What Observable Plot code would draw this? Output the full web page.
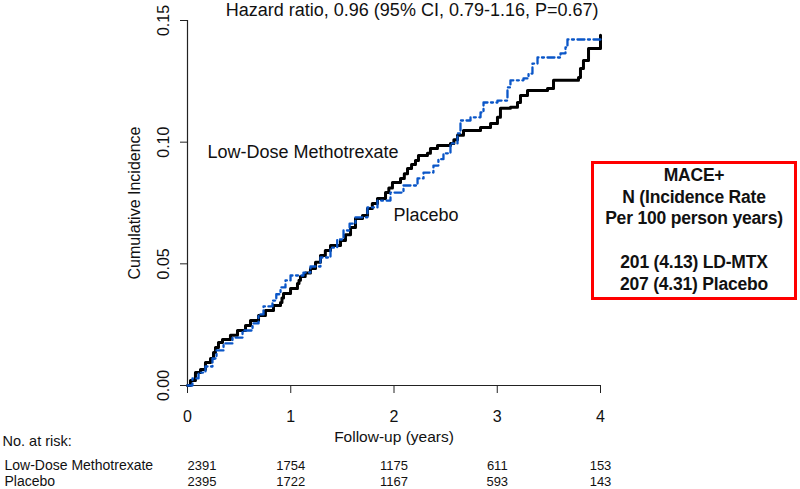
<!DOCTYPE html>
<html>
<head>
<meta charset="utf-8">
<script src="https://cdn.jsdelivr.net/npm/d3@7"></script>
<script src="https://cdn.jsdelivr.net/npm/@observablehq/plot@0.6"></script>
<style>
  html, body { margin: 0; padding: 0; background: #fff; }
  #wrap { position: relative; width: 800px; height: 489px; overflow: hidden; font-family: "Liberation Sans", Arial, sans-serif; }
  #box { position: absolute; left: 591px; top: 161px; width: 206px; height: 139px; box-sizing: border-box;
         border: 3px solid #ff0000; text-align: center; font-weight: bold; font-size: 17.5px; line-height: 21.7px;
         padding-top: 1px; color: #111; letter-spacing: -0.2px; }
</style>
</head>
<body>
<div id="wrap"></div>
<script>
// ---- data ----
const title = "Hazard ratio, 0.96 (95% CI, 0.79-1.16, P=0.67)";
const xTicks = [0, 1, 2, 3, 4];
const yTicks = [0, 0.05, 0.10, 0.15];
const groups = ["Low-Dose Methotrexate", "Placebo"];

// [years, cumulative incidence] at each step
const mtxSteps = [[0,0],[0.029,0.0021],[0.077,0.0053],[0.126,0.0066],[0.174,0.0095],[0.223,0.0111],[0.252,0.0136],[0.271,0.0156],[0.300,0.0177],[0.339,0.0189],[0.416,0.0206],[0.484,0.0226],[0.562,0.0247],[0.610,0.0267],[0.688,0.0288],[0.755,0.0308],[0.833,0.0329],[0.901,0.0341],[0.915,0.0360],[0.930,0.0378],[0.998,0.0399],[1.065,0.0419],[1.080,0.0433],[1.094,0.0448],[1.140,0.0462],[1.191,0.0481],[1.240,0.0507],[1.288,0.0534],[1.335,0.0555],[1.385,0.0575],[1.482,0.0596],[1.530,0.0620],[1.579,0.0649],[1.627,0.0686],[1.695,0.0699],[1.743,0.0727],[1.790,0.0748],[1.840,0.0769],[1.918,0.0793],[1.950,0.0812],[1.985,0.0834],[2.063,0.0851],[2.100,0.0870],[2.131,0.0892],[2.170,0.0908],[2.208,0.0925],[2.237,0.0945],[2.324,0.0954],[2.353,0.0974],[2.421,0.0986],[2.547,0.0995],[2.580,0.1010],[2.615,0.1028],[2.673,0.1048],[2.838,0.1060],[2.935,0.1077],[3.002,0.1102],[3.031,0.1139],[3.128,0.1143],[3.196,0.1163],[3.225,0.1192],[3.293,0.1212],[3.487,0.1221],[3.545,0.1254],[3.787,0.1266],[3.806,0.1303],[3.835,0.1336],[3.884,0.1385],[4.0,0.1439]];
const pboSteps = [[0,0],[0.048,0.0029],[0.107,0.0053],[0.174,0.0078],[0.242,0.0111],[0.281,0.0144],[0.349,0.0173],[0.436,0.0197],[0.533,0.0226],[0.630,0.0255],[0.688,0.0292],[0.736,0.0325],[0.823,0.0349],[0.860,0.0375],[0.901,0.0403],[0.949,0.0432],[0.998,0.0452],[1.123,0.0464],[1.191,0.0489],[1.288,0.0526],[1.385,0.0567],[1.450,0.0600],[1.511,0.0637],[1.570,0.0665],[1.627,0.0691],[1.743,0.0732],[1.840,0.0760],[1.966,0.0793],[2.092,0.0822],[2.228,0.0851],[2.286,0.0875],[2.382,0.0904],[2.430,0.0930],[2.479,0.0954],[2.547,0.0995],[2.615,0.1036],[2.644,0.1089],[2.741,0.1102],[2.838,0.1122],[2.867,0.1163],[3.002,0.1171],[3.099,0.1225],[3.128,0.1254],[3.254,0.1262],[3.303,0.1282],[3.341,0.1323],[3.390,0.1348],[3.613,0.1365],[3.661,0.1389],[3.680,0.1422],[4.0,0.1422]];

const riskTimes = [0, 1, 2, 3, 4];
const riskMTX = ["2391", "1754", "1175", "611", "153"];
const riskPBO = ["2395", "1722", "1167", "593", "143"];

// curve label anchor points (years, incidence)
const curveLabels = [
  {x: 0.194, y: 0.0958, text: "Low-Dose Methotrexate"},
  {x: 1.995, y: 0.0699, text: "Placebo"}
];
const boxLines = ["MACE+", "N (Incidence Rate", "Per 100 person years)", "", "201 (4.13) LD-MTX", "207 (4.31) Placebo"];

// ---- build ----
const mtx = mtxSteps.map(([t, v]) => ({t, v}));
const pbo = pboSteps.map(([t, v]) => ({t, v}));
const riskRows = riskTimes.map((t, i) => ({t, mtx: riskMTX[i], pbo: riskPBO[i]}));
const fmt = d3.format(".2f");

const chart = Plot.plot({
  width: 800,
  height: 489,
  marginLeft: 187,
  marginRight: 200,
  marginTop: 20,
  marginBottom: 104,
  style: {fontFamily: "Liberation Sans, Arial, sans-serif", fontSize: "16px", background: "white", overflow: "visible", color: "#111"},
  x: {domain: [0, 4]},
  y: {domain: [0, 0.15]},
  marks: [
    Plot.ruleY([0], {x1: 0, x2: 4, stroke: "#222", strokeWidth: 1.2}),
    Plot.ruleX([0], {y1: 0, y2: 0.15, stroke: "#222", strokeWidth: 1.2}),
    Plot.axisX({ticks: xTicks, tickSize: 8, tickPadding: 17, fontSize: 16, label: null, tickFormat: d => String(d), stroke: "#222"}),
    Plot.axisY({ticks: yTicks, tickSize: 7, label: null, tickFormat: () => "", stroke: "#222"}),
    Plot.text(yTicks, {y: d => d, text: d => fmt(d), frameAnchor: "left", dx: -24, rotate: -90, textAnchor: "middle", lineAnchor: "middle", fontSize: 16}),
    Plot.text(["Cumulative Incidence"], {frameAnchor: "left", dx: -53, rotate: -90, textAnchor: "middle", lineAnchor: "middle", fontSize: 16}),
    Plot.text(["Follow-up (years)"], {frameAnchor: "bottom", dy: 52, textAnchor: "middle", lineAnchor: "middle", fontSize: 15.5}),
    Plot.text([title], {frameAnchor: "top-right", dx: -2, dy: -10, textAnchor: "end", lineAnchor: "middle", fontSize: 18}),
    Plot.line(mtx, {x: "t", y: "v", curve: "step-after", stroke: "#000", strokeWidth: 3}),
    Plot.line(pbo, {x: "t", y: "v", curve: "step-after", stroke: "#0a56c8", strokeWidth: 2.3, strokeDasharray: "7,3.5,2,3.5"}),
    Plot.text(curveLabels, {x: "x", y: "y", text: "text", textAnchor: "start", lineAnchor: "middle", fontSize: 18}),
    Plot.text(["No. at risk:"], {frameAnchor: "bottom-left", dx: -185, dy: 56, textAnchor: "start", lineAnchor: "middle", fontSize: 14.5}),
    Plot.text([groups[0]], {frameAnchor: "bottom-left", dx: -183, dy: 80, textAnchor: "start", lineAnchor: "middle", fontSize: 14}),
    Plot.text([groups[1]], {frameAnchor: "bottom-left", dx: -183, dy: 96.5, textAnchor: "start", lineAnchor: "middle", fontSize: 14}),
    Plot.text(riskRows.filter(d => d.t === 0), {x: "t", text: "mtx", frameAnchor: "bottom", dy: 80, textAnchor: "start", lineAnchor: "middle", fontSize: 13}),
    Plot.text(riskRows.filter(d => d.t === 0), {x: "t", text: "pbo", frameAnchor: "bottom", dy: 96.5, textAnchor: "start", lineAnchor: "middle", fontSize: 13}),
    Plot.text(riskRows.filter(d => d.t > 0), {x: "t", text: "mtx", frameAnchor: "bottom", dy: 80, textAnchor: "middle", lineAnchor: "middle", fontSize: 13}),
    Plot.text(riskRows.filter(d => d.t > 0), {x: "t", text: "pbo", frameAnchor: "bottom", dy: 96.5, textAnchor: "middle", lineAnchor: "middle", fontSize: 13})
  ]
});
const wrap = document.getElementById("wrap");
wrap.appendChild(chart);
const box = document.createElement("div");
box.id = "box";
box.innerHTML = boxLines.map(s => s === "" ? "&nbsp;" : s).join("<br>");
wrap.appendChild(box);
</script>
</body>
</html>
